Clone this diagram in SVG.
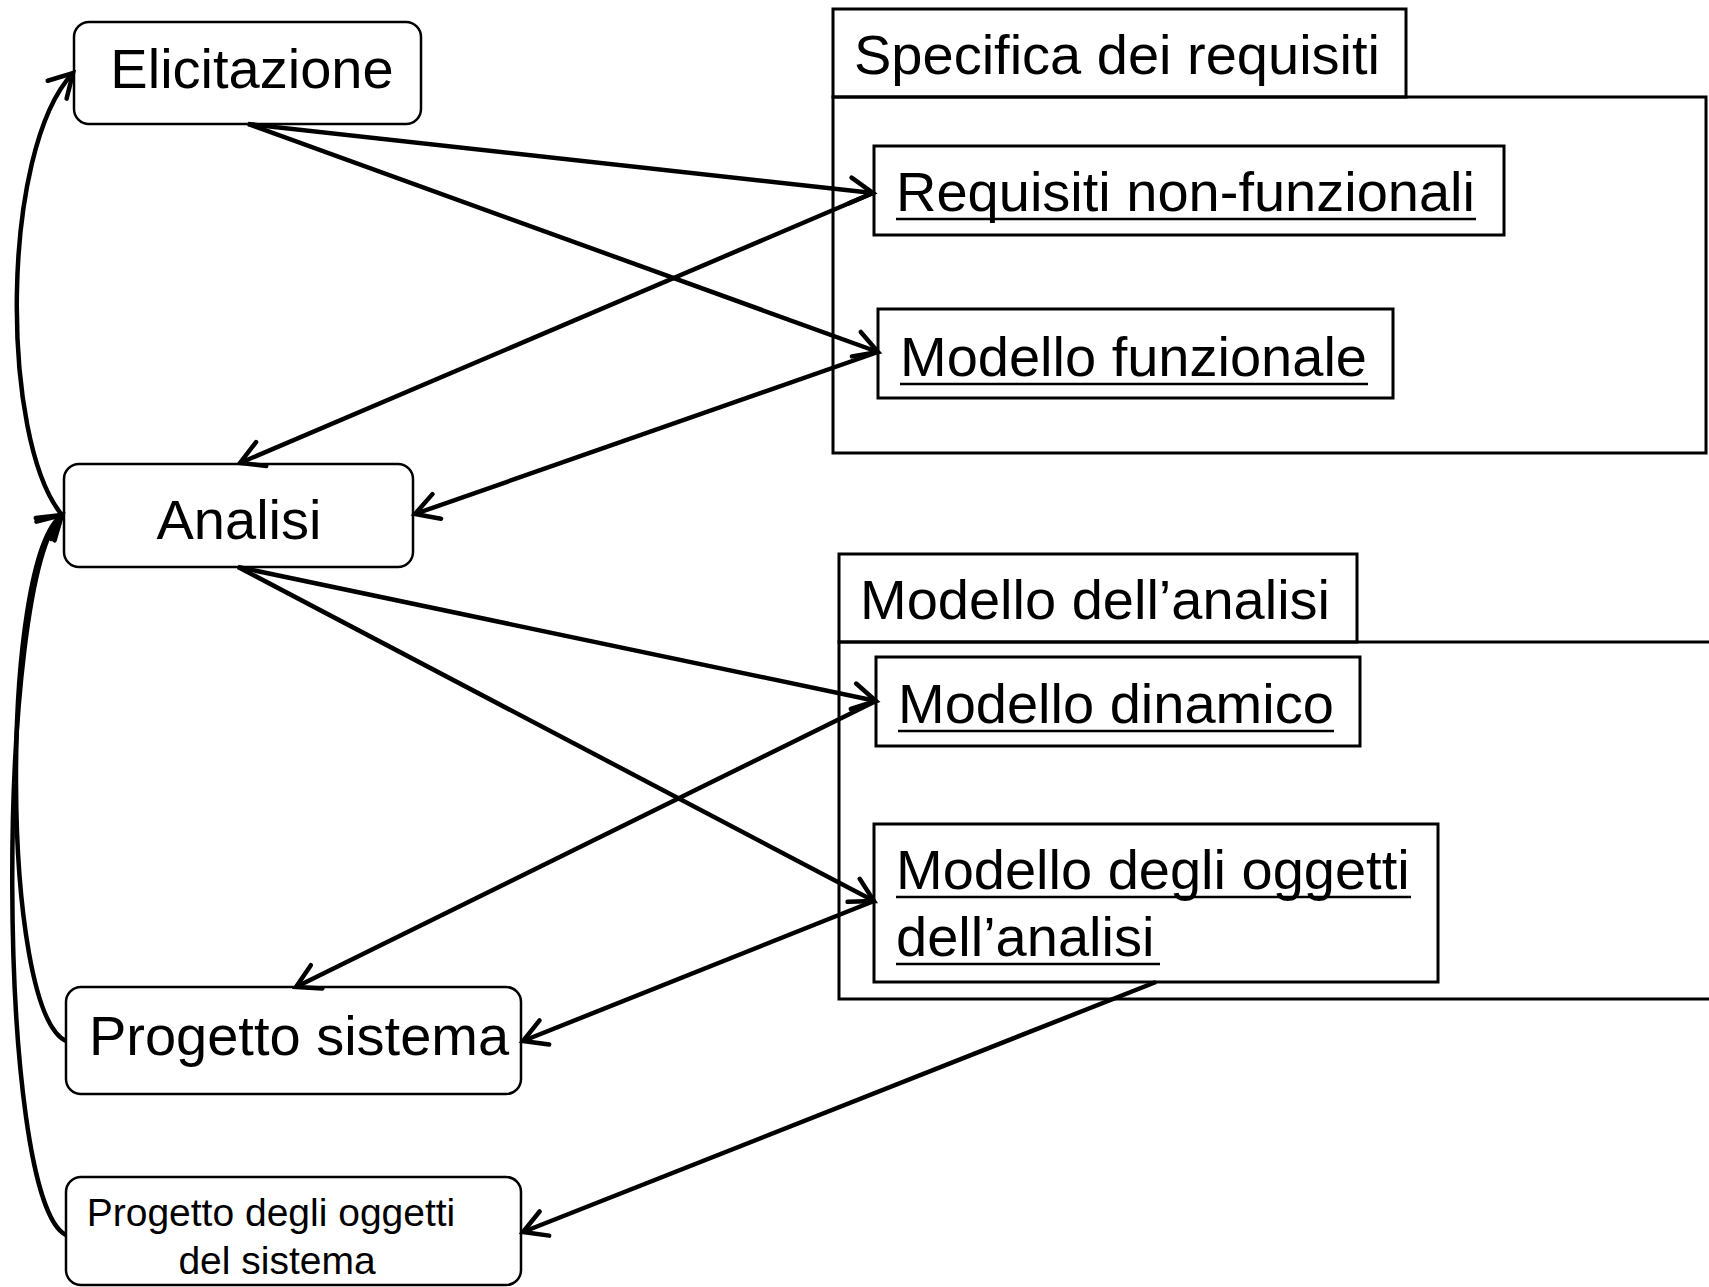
<svg xmlns="http://www.w3.org/2000/svg" width="1709" height="1287" viewBox="0 0 1709 1287">
  <style>
    .bg { fill: #ffffff; }
    .activity { fill: #ffffff; stroke: #000000; stroke-width: 2.5; }
    .pkg { fill: none; stroke: #000000; stroke-width: 3; }
    .doc { fill: #ffffff; stroke: #000000; stroke-width: 3; }
    .lbl { font-family: "Liberation Sans", Arial, sans-serif; font-size: 56px; fill: #000000; }
    .small { font-size: 39px; }
    .uline { stroke: #000000; stroke-width: 2.5; }
    .conn { fill: none; stroke: #000000; stroke-width: 4.5; marker-end: url(#open); }
  </style>
  <defs>
    <marker id="open" markerUnits="userSpaceOnUse" orient="auto" refX="0" refY="0"
            markerWidth="60" markerHeight="60" viewBox="-30 -30 60 60" overflow="visible">
      <path d="M-23,-13 L0,0 L-23,13" fill="none" stroke="#000000" stroke-width="4.5" stroke-linecap="round" stroke-linejoin="miter"/>
    </marker>
  </defs>

  <rect class="bg" x="0" y="0" width="1709" height="1287"/>

  <!-- Package: Specifica dei requisiti -->
  <g id="pkg-specifica">
    <rect class="pkg" x="833" y="9" width="573" height="88"/>
    <rect class="pkg" x="833" y="97" width="873" height="356"/>
    <text class="lbl" x="854" y="74">Specifica dei requisiti</text>
  </g>

  <!-- Package: Modello dell'analisi (continues past the right edge) -->
  <g id="pkg-modello-analisi">
    <rect class="pkg" x="839" y="554" width="518" height="88"/>
    <rect class="pkg" x="839" y="642" width="900" height="357"/>
    <text class="lbl" x="860" y="619">Modello dell’analisi</text>
  </g>

  <!-- Activities -->
  <g id="elicitazione">
    <rect class="activity" x="74" y="22" width="347" height="102" rx="15"/>
    <text class="lbl" x="252" y="88" text-anchor="middle">Elicitazione</text>
  </g>
  <g id="analisi">
    <rect class="activity" x="64" y="464" width="349" height="103" rx="15"/>
    <text class="lbl" x="239" y="539" text-anchor="middle">Analisi</text>
  </g>
  <g id="progetto-sistema">
    <rect class="activity" x="66" y="987" width="455" height="107" rx="15"/>
    <text class="lbl" x="299" y="1055" text-anchor="middle">Progetto sistema</text>
  </g>
  <g id="progetto-oggetti">
    <rect class="activity" x="66" y="1177" width="455" height="108" rx="15"/>
    <text class="lbl small" x="271" y="1226" text-anchor="middle">Progetto degli oggetti</text>
    <text class="lbl small" x="277" y="1274" text-anchor="middle">del sistema</text>
  </g>

  <!-- Work products (underlined names) -->
  <g id="requisiti-nf">
    <rect class="doc" x="874" y="146" width="630" height="89"/>
    <text class="lbl" x="896" y="211">Requisiti non-funzionali</text>
    <line class="uline" x1="896" y1="219" x2="1476" y2="219"/>
  </g>
  <g id="modello-funzionale">
    <rect class="doc" x="878" y="309" width="515" height="89"/>
    <text class="lbl" x="900" y="376">Modello funzionale</text>
    <line class="uline" x1="900" y1="384" x2="1368" y2="384"/>
  </g>
  <g id="modello-dinamico">
    <rect class="doc" x="876" y="657" width="484" height="89"/>
    <text class="lbl" x="898" y="723">Modello dinamico</text>
    <line class="uline" x1="898" y1="731" x2="1334" y2="731"/>
  </g>
  <g id="modello-oggetti">
    <rect class="doc" x="874" y="824" width="564" height="158"/>
    <text class="lbl" x="896" y="889">Modello degli oggetti</text>
    <line class="uline" x1="896" y1="897" x2="1411" y2="897"/>
    <text class="lbl" x="896" y="956">dell’analisi</text>
    <line class="uline" x1="896" y1="964" x2="1160" y2="964"/>
  </g>

  <!-- Connectors -->
  <g id="connectors">
    <path class="conn" d="M248,124 L873,193"/>
    <path class="conn" d="M248,124 L878,352"/>
    <path class="conn" d="M873,193 L240,463"/>
    <path class="conn" d="M878,352 L415,514"/>
    <path class="conn" d="M238,567 L876,701"/>
    <path class="conn" d="M238,567 L874,901"/>
    <path class="conn" d="M876,701 L296,987"/>
    <path class="conn" d="M874,901 L523,1041"/>
    <path class="conn" d="M1156,982 L523,1232"/>
    <path class="conn" d="M62,515 C0,440 0,150 73,73"/>
    <path class="conn" d="M66,1041 C0,1010 0,560 62,515"/>
    <path class="conn" d="M66,1235 C-5,1200 -5,580 62,515"/>
  </g>
</svg>
